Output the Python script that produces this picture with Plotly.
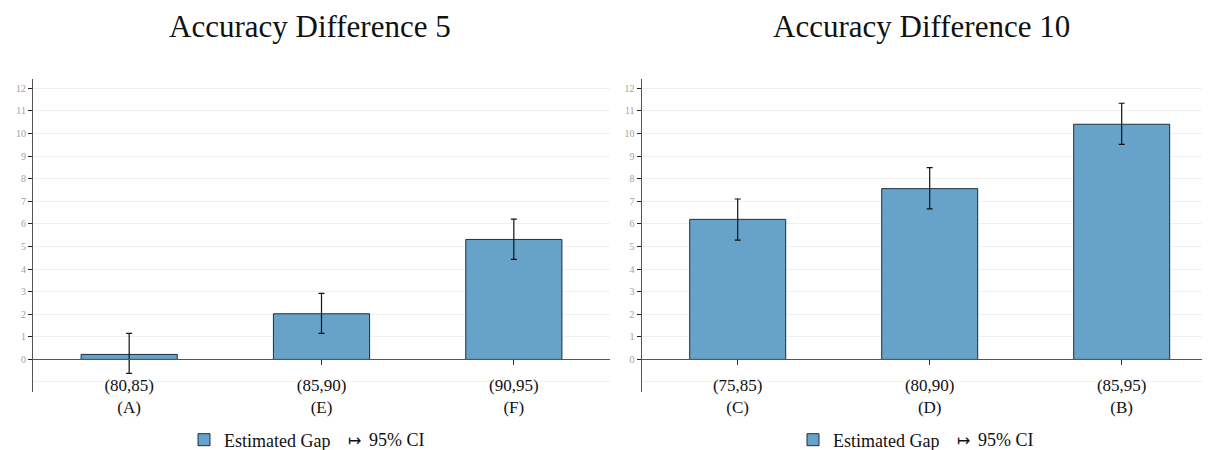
import plotly.graph_objects as go

# ---- data ----
titles = ["Accuracy Difference 5", "Accuracy Difference 10"]
cats_left = ["(80,85)<br>(A)", "(85,90)<br>(E)", "(90,95)<br>(F)"]
gap_left = [0.22, 2.02, 5.31]
lo_left = [-0.62, 1.15, 4.43]
hi_left = [1.15, 2.92, 6.21]

cats_right = ["(75,85)<br>(C)", "(80,90)<br>(D)", "(85,95)<br>(B)"]
gap_right = [6.20, 7.56, 10.41]
lo_right = [5.28, 6.66, 9.52]
hi_right = [7.10, 8.49, 11.34]

y_ticks = list(range(0, 13))
series_name = "Estimated Gap"
ci_symbol = "\u21a6"
ci_label = "95% CI"

# ---- style ----
OFF = 8  # default page body margin
W, H = 1210 - OFF, 450 - OFF
FONT = "Liberation Serif"
BAR_FILL = "rgb(103,163,201)"
BAR_LINE = "#1d2f40"
AXIS = "#555555"
GRID = "#f0f0f0"
YMIN, YMAX = -1.43, 12.40

def px_x(v):
    return (v - OFF) / W

def px_y(v):
    return 1 - (v - OFF) / H

fig = go.Figure()

panels = [
    (cats_left, gap_left, lo_left, hi_left, "x", "y", "legend"),
    (cats_right, gap_right, lo_right, hi_right, "x2", "y2", "legend2"),
]
for cats, gap, lo, hi, xa, ya, lg in panels:
    fig.add_trace(go.Bar(
        x=cats, y=gap, width=0.5,
        xaxis=xa, yaxis=ya, legend=lg,
        name=series_name,
        marker=dict(color=BAR_FILL, line=dict(color=BAR_LINE, width=1)),
        error_y=dict(type="data", symmetric=False,
                     array=[h - g for h, g in zip(hi, gap)],
                     arrayminus=[g - l for g, l in zip(gap, lo)],
                     color="#111111", thickness=1.2, width=3),
        showlegend=True,
    ))

yd = [px_y(391.7), px_y(79.3)]
xd1 = [px_x(33), px_x(610)]
xd2 = [px_x(641.7), 1.0]
zero_pos = yd[0] + (0 - YMIN) / (YMAX - YMIN) * (yd[1] - yd[0])

def yaxis_cfg(anchor):
    return dict(
        domain=yd, range=[YMIN, YMAX], anchor=anchor, automargin=False,
        tickvals=y_ticks, ticktext=[str(v) for v in y_ticks],
        showgrid=True, gridcolor=GRID, gridwidth=1,
        minor=dict(tickvals=[-1], showgrid=True, gridcolor=GRID, ticks=""),
        zeroline=False,
        showline=True, linecolor=AXIS, linewidth=1.2,
        ticks="outside", ticklen=4, tickcolor="#222222",
        tickfont=dict(family=FONT, size=10, color="#a0a0a0"),
    )

def xaxis_cfg(domain, rng):
    return dict(
        domain=domain, range=rng, anchor="free", position=zero_pos,
        automargin=False,
        showgrid=False, zeroline=False,
        showline=True, linecolor=AXIS, linewidth=1.2,
        ticks="outside", ticklen=5, tickcolor="#333333",
        ticklabelstandoff=5,
        tickfont=dict(family=FONT, size=17, color="#111111"),
    )

def legend_cfg(icon_center_px):
    return dict(x=px_x(icon_center_px - 20), y=px_y(440), xanchor="left", yanchor="middle",
                orientation="h", font=dict(family=FONT, size=18, color="#111111"),
                bgcolor="rgba(0,0,0,0)", borderwidth=0)

annotations = []
for i, (tx, icon_c) in enumerate([(310, 204), (921, 813)]):
    annotations.append(dict(text=titles[i], x=px_x(tx), y=px_y(27), xref="paper", yref="paper",
                            xanchor="center", yanchor="middle", showarrow=False,
                            font=dict(family=FONT, size=31, color="#111111")))
    annotations.append(dict(text=ci_symbol, x=px_x(icon_c + 150), y=px_y(440),
                            xref="paper", yref="paper", xanchor="center", yanchor="middle",
                            showarrow=False,
                            font=dict(family="DejaVu Sans", size=16, color="#111111")))
    annotations.append(dict(text=ci_label, x=px_x(icon_c + 163), y=px_y(440),
                            xref="paper", yref="paper", xanchor="left", yanchor="middle",
                            showarrow=False,
                            font=dict(family=FONT, size=18, color="#111111")))

fig.update_layout(
    width=W, height=H,
    margin=dict(l=0, r=0, t=0, b=0, autoexpand=False),
    plot_bgcolor="white", paper_bgcolor="white",
    bargap=0.5,
    xaxis=xaxis_cfg(xd1, [-0.5, 2.5]),
    xaxis2=xaxis_cfg(xd2, [-0.5, 2.46]),
    yaxis=yaxis_cfg("x"),
    yaxis2=yaxis_cfg("x2"),
    legend=legend_cfg(204),
    legend2=legend_cfg(813),
    showlegend=True,
    annotations=annotations,
)

fig.write_html("out.html")
